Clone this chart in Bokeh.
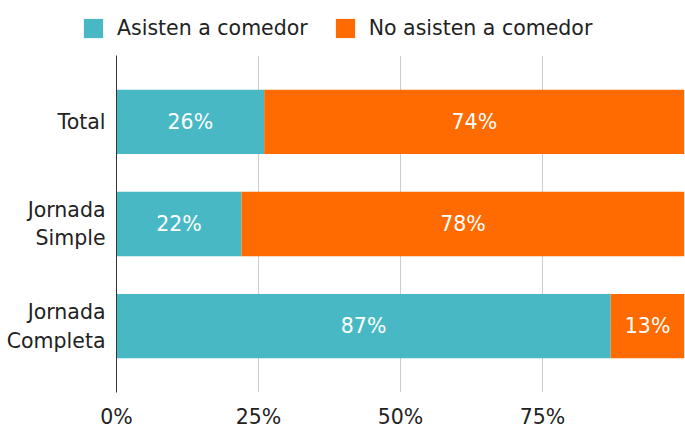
from bokeh.plotting import figure
from bokeh.layouts import column
from bokeh.models import ColumnDataSource, FactorRange, Range1d, FixedTicker, Legend, LegendItem
from bokeh.embed import file_html
from bokeh.resources import INLINE
from bokeh.core.properties import value

categories = ["Total", "Jornada\nSimple", "Jornada\nCompleta"]
asisten = [26, 22, 87]
no_asisten = [74, 78, 13]
series_names = ["Asisten a comedor", "No asisten a comedor"]
x_ticks = [0, 25, 50, 75]
x_tick_labels = ["0%", "25%", "50%", "75%"]
grid_ticks = [25, 50, 75, 100]

FONT = "DejaVu Sans"
TEAL = "#48B9C4"
ORANGE = "#FF6B00"
FS = "20.5px"
colors = [TEAL, ORANGE]
stack_cols = ["asisten", "no_asisten"]

source = ColumnDataSource(dict(cat=categories, asisten=asisten, no_asisten=no_asisten))

# ---- legend strip (top) ----
leg = figure(width=685, height=55, x_range=Range1d(0, 100),
             y_range=FactorRange(factors=list(reversed(categories))),
             output_backend="svg", toolbar_location=None, min_border=0)
leg.frame_align = False
leg.axis.visible = False
leg.grid.grid_line_color = None
leg.outline_line_color = None
dummy = leg.hbar_stack(stack_cols, y="cat", height=0.63, source=source,
                       color=colors, line_color=None, visible=False)
legend = Legend(items=[LegendItem(label=n, renderers=[r]) for n, r in zip(series_names, dummy)],
                orientation="horizontal", location=(81, 15),
                padding=0, margin=0, spacing=25, label_standoff=12,
                glyph_width=24, glyph_height=24, inactive_fill_alpha=0,
                label_text_font=FONT, label_text_font_size=FS, label_text_color="#222222",
                border_line_color=None, background_fill_alpha=0)
leg.add_layout(legend, "center")

# ---- main chart ----
p = figure(width=685, height=376,
           y_range=FactorRange(factors=list(reversed(categories)), range_padding=0.15,
                               range_padding_units="absolute"),
           x_range=Range1d(0, 100),
           output_backend="svg", toolbar_location=None,
           min_border_left=116, min_border_right=1, min_border_top=0, min_border_bottom=36)
p.frame_align = False
p.outline_line_color = None

rs = p.hbar_stack(stack_cols, y="cat", height=0.63, source=source,
                  color=colors, line_color=None)

lab_x, lab_y, lab_t = [], [], []
for c, a, n in zip(categories, asisten, no_asisten):
    lab_x += [a / 2, a + n / 2]
    lab_y += [c, c]
    lab_t += [f"{a}%", f"{n}%"]
p.text(x=lab_x, y=lab_y, text=lab_t, text_align="center", text_baseline="middle",
       text_color="white", text_font=value(FONT), text_font_size=FS)

p.xaxis.ticker = FixedTicker(ticks=x_ticks)
p.xaxis.major_label_overrides = dict(zip(x_ticks, x_tick_labels))
p.xaxis.axis_line_color = None
p.xaxis.major_tick_line_color = None
p.xaxis.minor_tick_line_color = None
p.xaxis.major_tick_out = 0
p.xaxis.minor_tick_out = 0
p.xaxis.major_label_standoff = 12
p.xaxis.major_label_text_line_height = 1.0
p.xaxis.major_label_text_font = FONT
p.xaxis.major_label_text_font_size = FS
p.xaxis.major_label_text_color = "#222222"

p.yaxis.axis_line_color = "#333333"
p.yaxis.major_tick_line_color = None
p.yaxis.minor_tick_line_color = None
p.yaxis.major_tick_out = 0
p.yaxis.minor_tick_out = 0
p.yaxis.major_label_standoff = 11
p.yaxis.major_label_text_font = FONT
p.yaxis.major_label_text_font_size = FS
p.yaxis.major_label_text_color = "#222222"

p.ygrid.grid_line_color = None
p.xgrid.ticker = FixedTicker(ticks=grid_ticks)
p.xgrid.grid_line_color = "#cccccc"

layout = column(leg, p, spacing=0)
open("out.html", "w").write(file_html(layout, INLINE))
